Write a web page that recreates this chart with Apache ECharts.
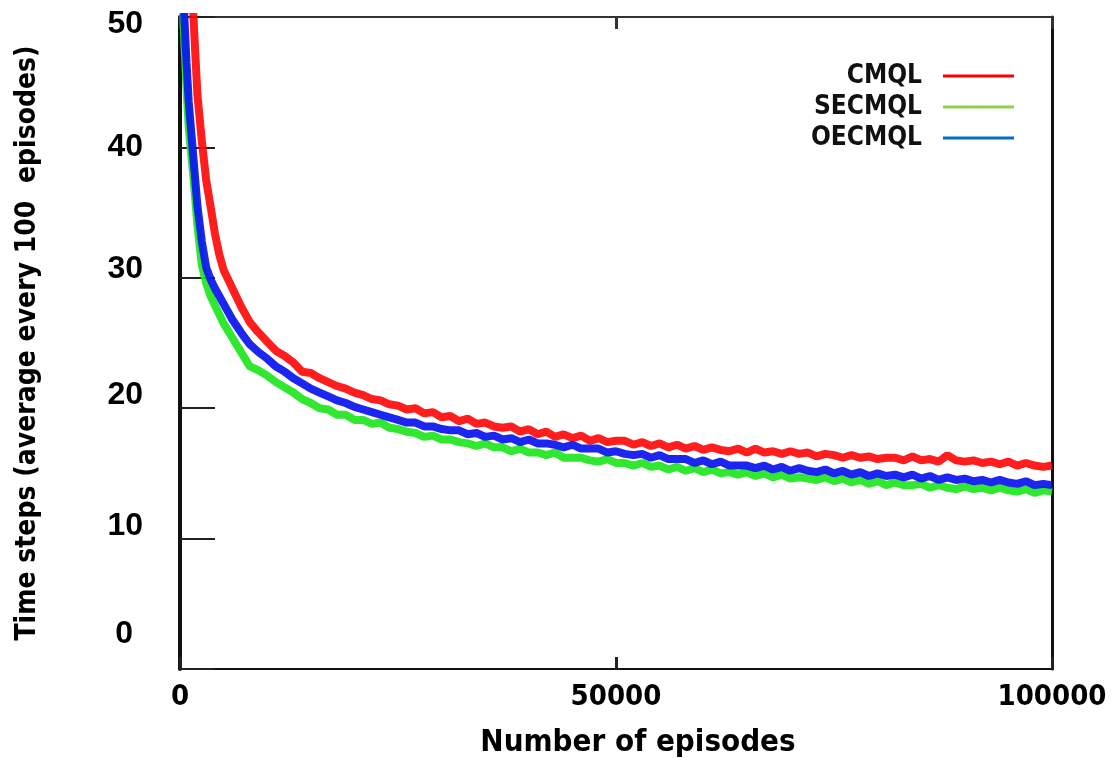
<!DOCTYPE html>
<html>
<head>
<meta charset="utf-8">
<script src="https://cdn.jsdelivr.net/npm/echarts@6/dist/echarts.min.js"></script>
<style>
html,body{margin:0;padding:0;background:#fff;}
#chart{width:1114px;height:758px;}
</style>
</head>
<body>
<div id="chart"></div>
<script>
const seriesNames = ['CMQL', 'SECMQL', 'OECMQL'];
const episodes = [0, 250, 500, 750, 1000, 1500, 2000, 2500, 3000, 3500, 4000, 4500, 5000, 6000, 7000, 8000, 9000, 10000,
  11000,12000,13000,14000,15000,16000,17000,18000,19000,20000,21000,22000,23000,24000,25000,26000,27000,28000,29000,30000,
  31000,32000,33000,34000,35000,36000,37000,38000,39000,40000,41000,42000,43000,44000,45000,46000,47000,48000,49000,50000,
  51000,52000,53000,54000,55000,56000,57000,58000,59000,60000,61000,62000,63000,64000,65000,66000,67000,68000,69000,70000,
  71000,72000,73000,74000,75000,76000,77000,78000,79000,80000,81000,82000,83000,84000,85000,86000,87000,88000,89000,90000,
  91000,92000,93000,94000,95000,96000,97000,98000,99000,100000];
const cmql = [72, 66, 61, 57, 54, 50.5, 44, 40.5, 37.5, 35.5, 33.4, 31.8, 30.6, 29.2, 27.8, 26.6, 25.8, 25.1,
  24.4, 24.0, 23.5, 22.8, 22.7, 22.3, 22.0, 21.7, 21.5, 21.2, 21.0, 20.7, 20.6, 20.3, 20.2, 19.9, 20.0, 19.6, 19.7, 19.3,
  19.4, 19.0, 19.2, 18.8, 18.9, 18.6, 18.5, 18.6, 18.2, 18.4, 18.0, 18.2, 17.8, 18.0, 17.7, 17.9, 17.5, 17.7, 17.4, 17.5,
  17.5, 17.2, 17.4, 17.1, 17.3, 17.0, 17.2, 16.9, 17.1, 16.8, 17.0, 16.8, 16.7, 16.9, 16.6, 16.9, 16.6, 16.7, 16.5, 16.7,
  16.5, 16.6, 16.3, 16.5, 16.4, 16.2, 16.4, 16.2, 16.3, 16.1, 16.2, 16.2, 16.0, 16.3, 16.0, 16.1, 15.9, 16.4, 16.0, 15.9,
  16.0, 15.8, 15.9, 15.7, 15.9, 15.6, 15.8, 15.6, 15.5, 15.6];
const secmql = [60, 53, 48, 44.5, 41.5, 38, 34, 31, 29.6, 28.6, 27.9, 27.2, 26.5, 25.4, 24.3, 23.2, 22.9, 22.5,
  22.0, 21.6, 21.2, 20.7, 20.4, 20.0, 19.9, 19.5, 19.5, 19.1, 19.1, 18.8, 18.9, 18.5, 18.4, 18.2, 18.1, 17.8, 17.9, 17.6,
  17.6, 17.4, 17.3, 17.1, 17.3, 17.0, 17.0, 16.7, 16.9, 16.6, 16.6, 16.4, 16.6, 16.2, 16.2, 16.2, 16.0, 15.9, 16.1, 15.8,
  15.8, 15.6, 15.8, 15.5, 15.6, 15.3, 15.5, 15.2, 15.4, 15.1, 15.3, 15.0, 15.1, 14.9, 15.1, 14.8, 15.0, 14.7, 14.9, 14.6,
  14.7, 14.6, 14.5, 14.7, 14.4, 14.6, 14.3, 14.5, 14.2, 14.4, 14.1, 14.3, 14.1, 14.1, 14.2, 13.9, 14.1, 13.9, 13.8, 14.0,
  13.8, 13.9, 13.7, 13.9, 13.7, 13.6, 13.8, 13.5, 13.7, 13.6];
const oecmql = [62, 55, 50, 46.5, 43.5, 39.5, 35.5, 32.8, 30.8, 29.9, 29.2, 28.6, 28.0, 26.8, 25.8, 24.9, 24.3, 23.8,
  23.2, 22.8, 22.3, 21.9, 21.5, 21.2, 20.9, 20.6, 20.4, 20.1, 19.9, 19.7, 19.5, 19.3, 19.1, 18.9, 18.9, 18.6, 18.6, 18.4,
  18.3, 18.3, 18.0, 18.1, 17.8, 17.9, 17.6, 17.7, 17.4, 17.6, 17.3, 17.3, 17.2, 17.0, 17.2, 16.9, 16.9, 16.9, 16.6, 16.7,
  16.5, 16.4, 16.5, 16.2, 16.4, 16.1, 16.1, 16.1, 15.8, 16.0, 15.7, 15.9, 15.6, 15.6, 15.6, 15.4, 15.6, 15.3, 15.5, 15.2,
  15.4, 15.2, 15.1, 15.3, 15.0, 15.2, 14.9, 15.1, 14.8, 15.0, 14.8, 14.9, 14.7, 14.9, 14.6, 14.8, 14.5, 14.7, 14.5, 14.6,
  14.4, 14.5, 14.3, 14.5, 14.3, 14.2, 14.4, 14.1, 14.2, 14.1];
const yTicks = [0, 10, 20, 30, 40, 50];
const xTicks = [0, 50000, 100000];

const lineColors = ['#ff0a0a', '#1ee61e', '#0a14f0'];
const legendColors = ['#ff0000', '#92d050', '#0070c0'];
const values = [cmql, secmql, oecmql];

const chart = echarts.init(document.getElementById('chart'), null, {renderer: 'canvas'});
const narrow = "'Liberation Sans Narrow', 'DejaVu Sans Condensed', 'Liberation Sans', sans-serif";
const arial = "'Liberation Sans', Arial, sans-serif";

const series = [0, 1, 2].map(i => ({
  name: seriesNames[i],
  type: 'line',
  data: episodes.map((e, k) => [e, values[i][k]]),
  showSymbol: false,
  smooth: false,
  clip: true,
  color: lineColors[i],
  lineStyle: {width: 8, color: lineColors[i], opacity: 0.92},
  xAxisIndex: 0, yAxisIndex: 0,
  z: 2 + i
}));

function yRich(pad) {
  return {fontFamily: arial, fontWeight: 'bold', fontSize: 32, color: '#000', padding: pad};
}

chart.setOption({
  animation: false,
  backgroundColor: '#ffffff',
  grid: {left: 180, right: 62, top: 17, bottom: 89, containLabel: false, outerBoundsMode: 'none'},
  legend: {
    orient: 'vertical',
    right: 95,
    top: 58,
    align: 'right',
    icon: 'rect',
    itemWidth: 71,
    itemHeight: 3,
    itemGap: 5,
    textStyle: {fontFamily: narrow, fontWeight: 'bold', fontSize: 26, color: '#111', width: 110, align: 'right', padding: [0, 16, 0, 0]},
    data: seriesNames.map((n, i) => ({name: n, itemStyle: {color: legendColors[i]}}))
  },
  xAxis: [{
    type: 'value', position: 'bottom', min: 0, max: 100000, interval: 50000,
    name: 'Number of episodes', nameLocation: 'middle', nameGap: 58,
    nameTextStyle: {fontFamily: narrow, fontWeight: 'bold', fontSize: 31, color: '#000', padding: [0, 0, 0, 44]},
    axisLine: {show: true, onZero: false, lineStyle: {color: '#111', width: 2}},
    axisTick: {show: true, inside: true, length: 12, lineStyle: {color: '#222', width: 3}},
    axisLabel: {show: true, margin: 14, fontFamily: narrow, fontWeight: 'bold', fontSize: 29, color: '#000',
      formatter: v => xTicks.indexOf(v) >= 0 ? String(v) : ''},
    splitLine: {show: false}
  }, {
    type: 'value', position: 'top', min: 0, max: 100000, interval: 50000,
    axisLine: {show: true, onZero: false, lineStyle: {color: '#333', width: 2}},
    axisTick: {show: true, inside: true, length: 12, lineStyle: {color: '#333', width: 3}},
    axisLabel: {show: false},
    splitLine: {show: false}
  }],
  yAxis: [{
    type: 'value', position: 'left', min: 0, max: 50, interval: 10,
    name: 'Time steps (average every 100  episodes)', nameLocation: 'middle', nameRotate: 90, nameGap: 138,
    nameTextStyle: {fontFamily: narrow, fontWeight: 'bold', fontSize: 28, color: '#000'},
    axisLine: {show: true, onZero: false, lineStyle: {color: '#111', width: 4}},
    axisTick: {show: true, inside: true, length: 35, lineStyle: {color: '#222', width: 2}},
    axisLabel: {show: true, margin: 37, fontFamily: arial, fontWeight: 'bold', fontSize: 32, color: '#000',
      formatter: v => yTicks.indexOf(v) >= 0 ? '{t' + v + '|' + v + '}' : '',
      rich: {
        t0: yRich([0, 10, 70, 0]),
        t10: yRich([0, 0, 24, 0]),
        t20: yRich([0, 0, 26, 0]),
        t30: yRich([0, 0, 18, 0]),
        t40: yRich([0, 0, 0, 0]),
        t50: yRich([14, 0, 0, 0])
      }},
    splitLine: {show: false}
  }, {
    type: 'value', position: 'right', min: 0, max: 50, interval: 10,
    axisLine: {show: true, onZero: false, lineStyle: {color: '#111', width: 3}},
    axisTick: {show: false},
    axisLabel: {show: false},
    splitLine: {show: false}
  }],
  series: series
});
</script>
</body>
</html>
